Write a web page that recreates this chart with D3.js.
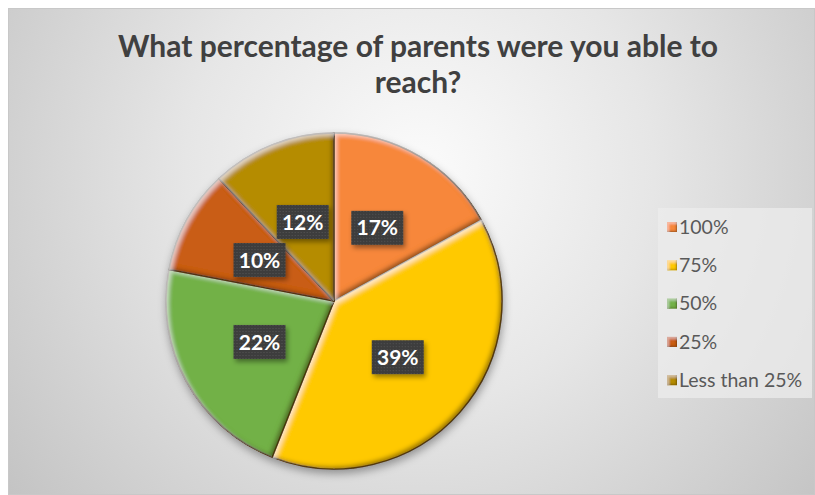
<!DOCTYPE html>
<html>
<head>
<meta charset="utf-8">
<script src="https://cdn.jsdelivr.net/npm/d3@7"></script>
<style>
  html, body { margin: 0; padding: 0; background: #ffffff; }
  svg { display: block; }
</style>
</head>
<body>
<svg id="chart" width="815" height="495"></svg>
<script>
// Survey answers: share of parents reached
const categories = ["100%", "75%", "50%", "25%", "Less than 25%"];
const values = [17, 39, 22, 10, 12];
const palette = ["#F7873A", "#FFC905", "#72B147", "#C95D18", "#B58C00"];
const titleLines = ["What percentage of parents were you able to", "reach?"];

const W = 815, H = 495;
const svg = d3.select("#chart");
const defs = svg.append("defs");

// Chart area background: soft radial gray
const bg = defs.append("radialGradient").attr("id", "bgGrad")
  .attr("gradientUnits", "userSpaceOnUse")
  .attr("cx", 420).attr("cy", 170).attr("r", 520);
bg.append("stop").attr("offset", "0%").attr("stop-color", "#fbfbfb");
bg.append("stop").attr("offset", "45%").attr("stop-color", "#e6e6e6");
bg.append("stop").attr("offset", "100%").attr("stop-color", "#c4c4c4");

// Bevel: dark rim on the lower-right edges, light rim on the upper-left
function makeBevel(id, blur, off, darkOp, lightOp) {
  const f = defs.append("filter").attr("id", id)
    .attr("x", "-10%").attr("y", "-10%").attr("width", "120%").attr("height", "120%");
  f.append("feGaussianBlur").attr("in", "SourceAlpha").attr("stdDeviation", blur).attr("result", "b");
  f.append("feOffset").attr("in", "b").attr("dx", -off).attr("dy", -off).attr("result", "o1");
  f.append("feComposite").attr("in", "SourceAlpha").attr("in2", "o1")
    .attr("operator", "arithmetic").attr("k2", 1).attr("k3", -1).attr("result", "rimDark");
  f.append("feFlood").attr("flood-color", "#3a2200").attr("flood-opacity", darkOp).attr("result", "fd");
  f.append("feComposite").attr("in", "fd").attr("in2", "rimDark").attr("operator", "in").attr("result", "darkEdge");
  f.append("feOffset").attr("in", "b").attr("dx", off).attr("dy", off).attr("result", "o2");
  f.append("feComposite").attr("in", "SourceAlpha").attr("in2", "o2")
    .attr("operator", "arithmetic").attr("k2", 1).attr("k3", -1).attr("result", "rimLight");
  f.append("feFlood").attr("flood-color", "#ffffff").attr("flood-opacity", lightOp).attr("result", "fl");
  f.append("feComposite").attr("in", "fl").attr("in2", "rimLight").attr("operator", "in").attr("result", "lightEdge");
  const m = f.append("feMerge");
  m.append("feMergeNode").attr("in", "SourceGraphic");
  m.append("feMergeNode").attr("in", "darkEdge");
  m.append("feMergeNode").attr("in", "lightEdge");
}
makeBevel("bevel", 2.2, 3, 0.7, 0.55);
makeBevel("keyBevel", 0.8, 1.5, 0.6, 0.35);

// Soft shadow under the pie and label boxes
const shadow = defs.append("filter").attr("id", "shadow")
  .attr("x", "-20%").attr("y", "-20%").attr("width", "140%").attr("height", "140%");
shadow.append("feDropShadow").attr("dx", 1).attr("dy", 4).attr("stdDeviation", 4)
  .attr("flood-color", "#000").attr("flood-opacity", 0.35);
const boxShadow = defs.append("filter").attr("id", "boxShadow")
  .attr("x", "-30%").attr("y", "-30%").attr("width", "160%").attr("height", "160%");
boxShadow.append("feDropShadow").attr("dx", 2).attr("dy", 3).attr("stdDeviation", 2.5)
  .attr("flood-color", "#000").attr("flood-opacity", 0.4);

// Dotted texture for label boxes
const dots = defs.append("pattern").attr("id", "dots")
  .attr("width", 3).attr("height", 3).attr("patternUnits", "userSpaceOnUse");
dots.append("rect").attr("width", 3).attr("height", 3).attr("fill", "#3d3d3d");
dots.append("rect").attr("x", 1).attr("y", 1).attr("width", 1).attr("height", 1).attr("fill", "#565656");

// Background panel
svg.append("rect").attr("x", 8.5).attr("y", 8.5).attr("width", W - 9).attr("height", H - 9)
  .attr("fill", "url(#bgGrad)").attr("stroke", "#c8c8c8").attr("stroke-width", 1);

// Title
const title = svg.append("text")
  .attr("text-anchor", "middle")
  .attr("font-family", "Lato, 'Open Sans', sans-serif")
  .attr("font-weight", 700)
  .attr("font-size", 30)
  .attr("fill", "#404040");
titleLines.forEach((t, i) => {
  title.append("tspan").attr("x", 418).attr("y", 57 + i * 36).text(t);
});

// Pie
const cx = 334, cy = 301, R = 168;
const pie = d3.pie().sort(null).value(d => d)(values);
const arc = d3.arc().innerRadius(0).outerRadius(R);
const labelArc = d3.arc().innerRadius(85).outerRadius(85);

const g = svg.append("g").attr("transform", `translate(${cx},${cy})`);
const slices = g.append("g").attr("filter", "url(#shadow)");
slices.selectAll("path")
  .data(pie)
  .join("path")
  .attr("d", arc)
  .attr("fill", (d, i) => palette[i])
  .attr("stroke", "#4a3004")
  .attr("stroke-opacity", 0.75)
  .attr("stroke-width", 1.4)
  .attr("stroke-linejoin", "round")
  .attr("filter", "url(#bevel)");

// Data labels
const labels = g.selectAll("g.lbl")
  .data(pie)
  .join("g")
  .attr("class", "lbl")
  .attr("transform", d => {
    const [x, y] = labelArc.centroid(d);
    return `translate(${x},${y})`;
  });
labels.append("rect")
  .attr("x", -26).attr("y", -17).attr("width", 52).attr("height", 34)
  .attr("fill", "url(#dots)")
  .attr("filter", "url(#boxShadow)");
labels.append("text")
  .attr("text-anchor", "middle")
  .attr("dy", "0.36em")
  .attr("font-family", "Lato, 'Open Sans', sans-serif")
  .attr("font-weight", 700)
  .attr("font-size", 21)
  .attr("fill", "#ffffff")
  .text(d => d.data + "%");

// Legend
const legend = svg.append("g");
legend.append("rect").attr("x", 658).attr("y", 208).attr("width", 154).attr("height", 190)
  .attr("fill", "#ececec").attr("fill-opacity", 0.75);
const rows = legend.selectAll("g.row")
  .data(categories)
  .join("g")
  .attr("class", "row")
  .attr("transform", (d, i) => `translate(667,${227 + i * 38.3})`);
rows.append("rect")
  .attr("x", 0).attr("y", -5).attr("width", 10).attr("height", 10)
  .attr("fill", (d, i) => palette[i])
  .attr("filter", "url(#keyBevel)");
rows.append("text")
  .attr("x", 12).attr("dy", "0.35em")
  .attr("font-family", "Lato, 'Open Sans', sans-serif")
  .attr("font-size", 19.5)
  .attr("fill", "#595959")
  .text(d => d);
</script>
</body>
</html>
